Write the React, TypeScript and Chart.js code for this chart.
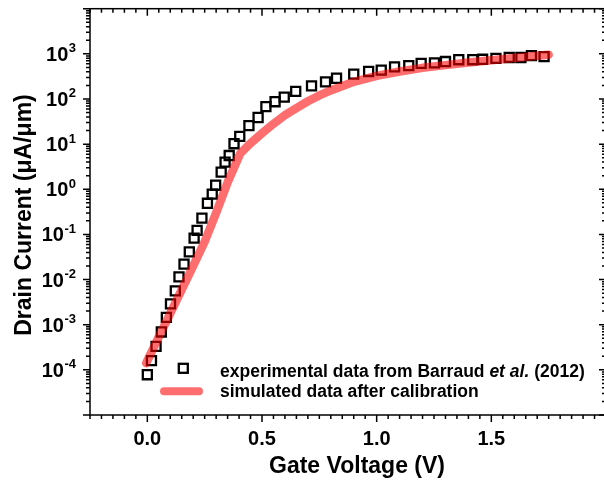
import React, { useEffect, useRef } from 'react';
import { Chart, registerables } from 'chart.js';

Chart.register(...registerables);

// ---- data ----
const expVoltage = [0.000, 0.018, 0.038, 0.061, 0.083, 0.101, 0.122, 0.138, 0.160, 0.183, 0.204, 0.217, 0.238, 0.262, 0.283, 0.298, 0.322, 0.339, 0.357, 0.378, 0.403, 0.443, 0.483, 0.517, 0.557, 0.597, 0.647, 0.716, 0.777, 0.825, 0.900, 0.965, 1.020, 1.078, 1.140, 1.194, 1.252, 1.300, 1.358, 1.419, 1.462, 1.520, 1.578, 1.629, 1.675, 1.730];
const expCurrent = [7.8e-5, 1.6e-4, 3.3e-4, 6.9e-4, 1.45e-3, 2.9e-3, 5.6e-3, 1.15e-2, 2.2e-2, 4.1e-2, 8.3e-2, 0.123, 0.23, 0.49, 0.78, 1.23, 2.4, 4.0, 5.6, 10.2, 14.8, 25.7, 38.9, 67.6, 87, 110, 148, 195, 240, 288, 355, 407, 437, 513, 550, 617, 631, 676, 741, 741, 759, 794, 832, 832, 912, 871];

const simVoltage = [-0.005, 0.05, 0.10, 0.15, 0.20, 0.25, 0.30, 0.35, 0.405, 0.45, 0.50, 0.55, 0.60, 0.65, 0.70, 0.75, 0.80, 0.90, 1.00, 1.10, 1.20, 1.30, 1.40, 1.50, 1.60, 1.70, 1.75];
const simCurrent = [1.41e-4, 5.4e-4, 1.78e-3, 6.0e-3, 2.0e-2, 6.9e-2, 0.30, 1.41, 6.2, 10.5, 17.4, 28.2, 43.7, 63, 89, 120, 155, 240, 324, 407, 490, 562, 646, 724, 813, 912, 955];

const xTickValues = [0, 0.5, 1.0, 1.5];
const xTickLabels = ['0.0', '0.5', '1.0', '1.5'];
const yTickExponents = [-4, -3, -2, -1, 0, 1, 2, 3];
const xTitle = 'Gate Voltage (V)';
const yTitle = 'Drain Current (\u03bcA/\u03bcm)';
const legendExpParts = ['experimental data from Barraud ', 'et al.', ' (2012)'];
const legendSim = 'simulated data after calibration';

const FONT = '"Liberation Sans", Arial, sans-serif';
const LINE_COLOR = 'rgba(255,0,0,0.57)';

const decorPlugin = {
  id: 'decor',
  afterDraw(chart: any) {
    const { ctx, chartArea, scales } = chart;
    const { left, right, top, bottom } = chartArea;
    const xs = scales.x;
    const ys = scales.y;
    ctx.save();
    ctx.strokeStyle = '#000';
    ctx.lineWidth = 1.5;
    ctx.strokeRect(left, top, right - left, bottom - top);

    // x ticks (bottom outward, top inward)
    ctx.beginPath();
    for (let k = -5; k <= 40; k++) {
      const v = k * 0.05;
      const px = xs.getPixelForValue(v);
      const major = k % 10 === 0;
      const len = major ? 7 : 4;
      ctx.moveTo(px, bottom);
      ctx.lineTo(px, bottom + len);
      ctx.moveTo(px, top);
      ctx.lineTo(px, top + len);
    }
    // y ticks (left outward, right inward)
    for (let e = -5; e <= 4; e++) {
      for (let m = 1; m <= 9; m++) {
        const v = m * Math.pow(10, e);
        if (v > 1.0001e4) break;
        const py = ys.getPixelForValue(v);
        const len = m === 1 ? 7 : 4;
        ctx.moveTo(left - len, py);
        ctx.lineTo(left, py);
        ctx.moveTo(right - len, py);
        ctx.lineTo(right, py);
      }
    }
    ctx.stroke();

    ctx.fillStyle = '#000';
    // x tick labels
    ctx.font = `bold 20px ${FONT}`;
    ctx.textAlign = 'center';
    ctx.textBaseline = 'alphabetic';
    xTickValues.forEach((v, i) => {
      ctx.fillText(xTickLabels[i], xs.getPixelForValue(v), 445);
    });

    // y tick labels 10^n
    ctx.textAlign = 'left';
    yTickExponents.forEach((e) => {
      const py = ys.getPixelForValue(Math.pow(10, e));
      const sup = e < 0 ? '-' + String(-e) : String(e);
      ctx.font = `bold 20px ${FONT}`;
      const bw = ctx.measureText('10').width;
      ctx.font = `bold 13px ${FONT}`;
      const sw = ctx.measureText(sup).width;
      const start = 76 - sw - bw - 0.5;
      ctx.font = `bold 20px ${FONT}`;
      ctx.fillText('10', start, py + 7);
      ctx.font = `bold 13px ${FONT}`;
      ctx.fillText(sup, start + bw + 0.5, py - 1.5);
    });

    // axis titles
    ctx.font = `bold 23px ${FONT}`;
    ctx.textAlign = 'center';
    ctx.fillText(xTitle, 357, 472.5);
    ctx.save();
    ctx.translate(31, 215);
    ctx.rotate(-Math.PI / 2);
    ctx.fillText(yTitle, 0, 0);
    ctx.restore();

    // legend
    ctx.strokeStyle = '#000';
    ctx.lineWidth = 2.3;
    ctx.strokeRect(183.3 - 4.5, 368.3 - 4.5, 9, 9);
    ctx.textAlign = 'left';
    let tx = 220;
    legendExpParts.forEach((part, i) => {
      ctx.font = i === 1 ? `italic bold 17.5px ${FONT}` : `bold 17.5px ${FONT}`;
      ctx.fillText(part, tx, 376.5);
      tx += ctx.measureText(part).width;
    });
    ctx.strokeStyle = LINE_COLOR;
    ctx.lineWidth = 8;
    ctx.lineCap = 'round';
    ctx.beginPath();
    ctx.moveTo(164, 391.3);
    ctx.lineTo(199, 391.3);
    ctx.stroke();
    ctx.font = `bold 17.5px ${FONT}`;
    ctx.fillText(legendSim, 220, 396.5);
    ctx.restore();
  },
};

export default function App() {
  const canvasRef = useRef<HTMLCanvasElement | null>(null);

  useEffect(() => {
    const canvas = canvasRef.current;
    if (!canvas) return;
    const W = 616;
    const chart = new Chart(canvas, {
      type: 'line',
      data: {
        datasets: [
          {
            label: 'experimental',
            data: expVoltage.map((v, i) => ({ x: v, y: expCurrent[i] })),
            showLine: false,
            pointStyle: 'rect',
            pointRadius: 6.4,
            pointBorderWidth: 2.3,
            pointBorderColor: '#000',
            pointBackgroundColor: 'rgba(0,0,0,0)',
            order: 1,
          },
          {
            label: 'simulated',
            data: simVoltage.map((v, i) => ({ x: v, y: simCurrent[i] })),
            borderColor: LINE_COLOR,
            borderWidth: 8.5,
            borderCapStyle: 'round',
            borderJoinStyle: 'round',
            pointRadius: 0,
            tension: 0,
            fill: false,
            order: 0,
          },
        ],
      },
      options: {
        responsive: false,
        animation: false,
        devicePixelRatio: 1,
        layout: { padding: { left: 90, top: 8, right: W - 606, bottom: 482 - 415 } },
        plugins: { legend: { display: false }, tooltip: { enabled: false } },
        scales: {
          x: { type: 'linear', min: -0.25, max: 2.0, display: false },
          y: { type: 'logarithmic', min: 1e-5, max: 1e4, display: false },
        },
      },
      plugins: [decorPlugin],
    } as any);
    return () => chart.destroy();
  }, []);

  return (
    <div style={{ position: 'fixed', left: 0, top: 0, width: 604, height: 482, overflow: 'hidden', background: '#fff' }}>
      <canvas ref={canvasRef} width={616} height={482} style={{ display: 'block' }} />
    </div>
  );
}
